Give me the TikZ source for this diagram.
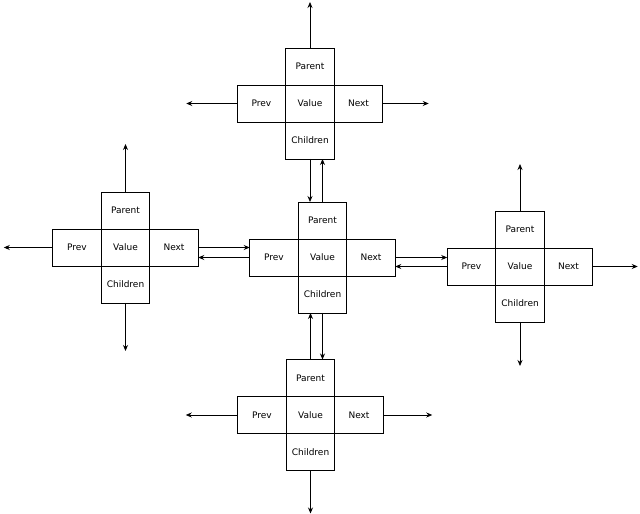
\documentclass[tikz,border=0pt]{standalone}
\usepackage{fontspec}
\setmainfont{DejaVu Sans}
\usetikzlibrary{arrows.meta,positioning}

\begin{document}
\begin{tikzpicture}[
  x=1pt, y=1pt,
  font=\fontsize{9}{11}\selectfont,
  node distance=0pt,
  cell/.style={draw, line width=0.8pt, minimum width=48.5pt, minimum height=37pt, inner sep=0pt, outer sep=0pt},
  arr/.style={-{Stealth[length=6pt,width=5pt]}, line width=0.8pt}
]
\useasboundingbox (0,0) rectangle (640,514);
% five records, each a cross of cells
\foreach \n/\x/\y in {top/310/410.5, left/125.5/266.5, mid/322.5/256.5, right/520/247.5, bot/310.5/99} {
  \node[cell] (\n-v) at (\x,\y) {Value};
  \node[cell, above=of \n-v] (\n-p) {Parent};
  \node[cell, below=of \n-v] (\n-c) {Children};
  \node[cell, left=of \n-v] (\n-w) {Prev};
  \node[cell, right=of \n-v] (\n-e) {Next};
}
% open links
\foreach \c/\d in {top-p/46, left-p/48, right-p/47} {
  \coordinate[above=\d pt of \c] (\c-end);
  \draw[arr] (\c) -- (\c-end);
}
\foreach \c/\d in {left-c/48, right-c/44, bot-c/43} {
  \coordinate[below=\d pt of \c] (\c-end);
  \draw[arr] (\c) -- (\c-end);
}
\foreach \c/\d in {top-w/51, left-w/49, bot-w/52} {
  \coordinate[left=\d pt of \c] (\c-end);
  \draw[arr] (\c) -- (\c-end);
}
\foreach \c/\d in {top-e/46, right-e/45, bot-e/49} {
  \coordinate[right=\d pt of \c] (\c-end);
  \draw[arr] (\c) -- (\c-end);
}
% links to the middle record
\draw[arr] (top-c.south) -- (top-c.south |- mid-p.north);
\draw[arr] (mid-p.north) -- (mid-p.north |- top-c.south);
\draw[arr] (bot-p.north) -- (bot-p.north |- mid-c.south);
\draw[arr] (mid-c.south) -- (mid-c.south |- bot-p.north);
\draw[arr] (left-e.east) -- (left-e.east -| mid-w.west);
\draw[arr] (mid-w.west) -- (mid-w.west -| left-e.east);
\draw[arr] (mid-e.east) -- (mid-e.east -| right-w.west);
\draw[arr] (right-w.west) -- (right-w.west -| mid-e.east);
\end{tikzpicture}
\end{document}
